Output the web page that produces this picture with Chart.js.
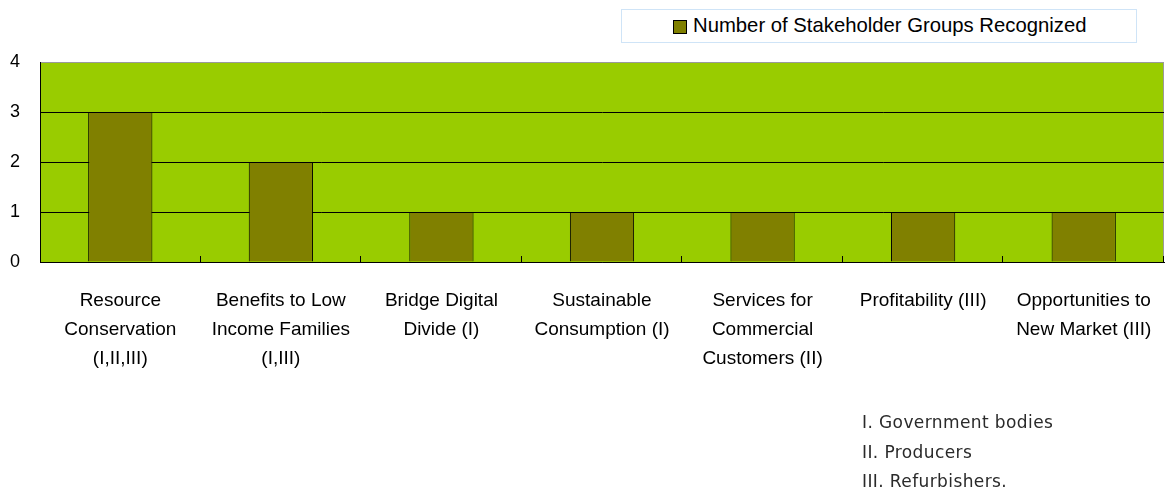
<!DOCTYPE html>
<html>
<head>
<meta charset="utf-8">
<script src="https://cdn.jsdelivr.net/npm/chart.js@4/dist/chart.umd.min.js"></script>
<style>
  html, body { margin: 0; padding: 0; background: #fff; }
  #wrap { position: relative; width: 1173px; height: 493px; }
  #chart { display: block; }
  #legendBox {
    position: absolute; left: 621px; top: 9px; width: 514px; height: 32px;
    border: 1px solid #cfe4f7; background: #fff;
    font-family: "Liberation Sans", Arial, sans-serif; font-size: 20.3px; color: #000;
  }
  #legendBox .swatch {
    position: absolute; left: 51px; top: 10px; width: 12px; height: 12px;
    background: #808000; border: 1px solid #000;
  }
  #legendBox .txt { position: absolute; left: 71px; top: 4px; white-space: nowrap; }
  #notes {
    position: absolute; left: 862px; top: 408px;
    font-family: "DejaVu Sans", Tahoma, sans-serif; font-size: 17px; color: #2a2a2a;
    letter-spacing: 0.4px; line-height: 29.5px;
  }
</style>
</head>
<body>
<div id="wrap">
  <canvas id="chart" width="1173" height="493"></canvas>
  <div id="legendBox"><span class="swatch"></span><span class="txt"></span></div>
  <div id="notes"></div>
</div>
<script>
// stakeholder recognition per benefit category
const categories = [
  ['Resource', 'Conservation', '(I,II,III)'],
  ['Benefits to Low', 'Income Families', '(I,III)'],
  ['Bridge Digital', 'Divide (I)'],
  ['Sustainable', 'Consumption (I)'],
  ['Services for', 'Commercial', 'Customers (II)'],
  ['Profitability (III)'],
  ['Opportunities to', 'New Market (III)']
];
const groupCounts = [3, 2, 1, 1, 1, 1, 1];
const seriesName = 'Number of Stakeholder Groups Recognized';
const groupNotes = ['I. Government bodies', 'II. Producers', 'III. Refurbishers.'];

document.querySelector('#legendBox .txt').textContent = seriesName;
document.getElementById('notes').innerHTML = groupNotes.join('<br>');

// green plot background + grey frame on top/right
const plotFrame = {
  id: 'plotFrame',
  beforeDraw(chart) {
    const {ctx, chartArea: a} = chart;
    ctx.save();
    ctx.fillStyle = '#99cc00';
    ctx.fillRect(a.left, a.top, a.right - a.left, a.bottom - a.top);
    ctx.strokeStyle = '#9a9a9a';
    ctx.lineWidth = 1;
    ctx.beginPath();
    ctx.moveTo(a.left, a.top + 0.5);
    ctx.lineTo(a.right - 0.5, a.top + 0.5);
    ctx.lineTo(a.right - 0.5, a.bottom);
    ctx.stroke();
    ctx.restore();
  },
  // short inward ticks at category boundaries
  afterDatasetsDraw(chart) {
    const {ctx, chartArea: a} = chart;
    const x = chart.scales.x;
    const n = categories.length;
    const step = (x.right - x.left) / n;
    ctx.save();
    ctx.strokeStyle = '#000';
    ctx.lineWidth = 1;
    ctx.beginPath();
    for (let i = 1; i <= n; i++) {
      const px = Math.round(x.left + i * step) - 0.5;
      ctx.moveTo(px, a.bottom);
      ctx.lineTo(px, a.bottom - 6);
    }
    ctx.stroke();
    ctx.restore();
  }
};

new Chart(document.getElementById('chart').getContext('2d'), {
  type: 'bar',
  data: {
    labels: categories,
    datasets: [{
      label: seriesName,
      data: groupCounts,
      backgroundColor: '#808000',
      borderColor: '#000',
      borderWidth: 1,
      categoryPercentage: 1.0,
      barPercentage: 0.4
    }]
  },
  options: {
    responsive: false,
    animation: false,
    layout: { padding: { top: 62, right: 9, left: 0, bottom: 0 } },
    plugins: {
      legend: { display: false },
      tooltip: { enabled: false }
    },
    scales: {
      x: {
        afterFit: s => { s.height = 231; },
        grid: { display: false },
        border: { display: true, color: '#000', width: 1 },
        ticks: {
          color: '#000',
          padding: 16,
          maxRotation: 0,
          autoSkip: false,
          font: { family: '"Liberation Sans", Arial, sans-serif', size: 19, lineHeight: 1.53 }
        }
      },
      y: {
        min: 0,
        max: 4,
        afterFit: s => { s.width = 40; },
        border: { display: true, color: '#000', width: 1 },
        grid: {
          drawTicks: false,
          color: ctx => ctx.tick.value === 4 ? '#9a9a9a' : '#000',
          lineWidth: 1
        },
        ticks: {
          stepSize: 1,
          color: '#000',
          padding: 20,
          font: { family: '"Liberation Sans", Arial, sans-serif', size: 18 }
        }
      }
    }
  },
  plugins: [plotFrame]
});
</script>
</body>
</html>
